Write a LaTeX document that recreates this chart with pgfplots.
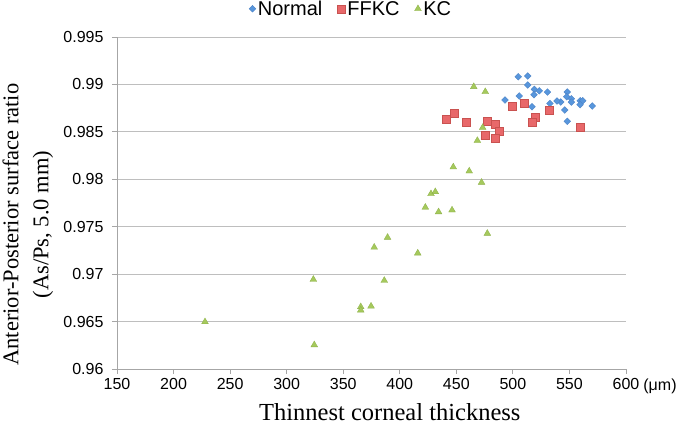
\documentclass[border=0pt]{standalone}
\usepackage{fontspec}
\setmainfont{Liberation Serif}
\newfontfamily\arial{Liberation Sans}
\usepackage{pgfplots}
\pgfplotsset{compat=1.18}
\definecolor{nblue}{HTML}{5896DC}
\definecolor{nbluedk}{HTML}{4A80C4}
\definecolor{fred}{HTML}{E8686A}
\definecolor{freddk}{HTML}{C95250}
\definecolor{kgreen}{HTML}{A5C95C}
\definecolor{kgreendk}{HTML}{8DB048}
\definecolor{gridgray}{HTML}{BEBEBE}
\definecolor{axisgray}{HTML}{A6A6A6}

\pgfplotstableread{
x y
504.8 0.99081
513.1 0.99089
513.1 0.98994
519.0 0.98948
523.4 0.98933
530.5 0.98920
518.7 0.98891
505.7 0.98878
493.0 0.98835
548.1 0.98920
547.6 0.98870
551.7 0.98849
542.3 0.98814
532.8 0.98800
551.7 0.98814
559.6 0.98828
561.8 0.98828
559.4 0.98786
570.2 0.98772
516.9 0.98765
545.8 0.98730
531.6 0.98719
548.1 0.98611
539.0 0.98825
}\normaltab

\pgfplotstableread{
x y
440.6 0.98635
448.5 0.98695
458.3 0.98606
477.4 0.98617
484.4 0.98582
487.5 0.98508
475.4 0.98469
484.8 0.98435
499.2 0.98772
510.4 0.98807
519.3 0.98653
517.5 0.98603
532.5 0.98733
559.1 0.98551
}\ffkctab

\pgfplotstableread{
x y
465.4 0.98976
475.6 0.98923
473.3 0.98545
468.6 0.98408
447.3 0.98129
461.4 0.98086
472.3 0.97967
427.6 0.97847
431.4 0.97868
422.6 0.97704
434.3 0.97656
446.2 0.97675
477.4 0.97429
389.2 0.97387
377.4 0.97283
415.9 0.97221
323.6 0.96944
386.3 0.96933
365.5 0.96655
365.5 0.96620
374.6 0.96662
227.8 0.96497
324.4 0.96254
}\kctab

\begin{document}
\begin{tikzpicture}
\useasboundingbox (0,0) rectangle (685pt,438pt);
\begin{axis}[
  at={(117pt,69pt)}, anchor=south west,
  scale only axis, width=509pt, height=332pt,
  xmin=150, xmax=600, ymin=0.96, ymax=0.995,
  xtick={150,200,250,300,350,400,450,500,550,600},
  ytick={0.96,0.965,0.97,0.975,0.98,0.985,0.99,0.995},
  yticklabels={0.96,0.965,0.97,0.975,0.98,0.985,0.99,0.995},
  scaled ticks=false,
  axis x line*=bottom, axis y line*=left,
  tick align=outside, tick pos=left,
  major tick length=5pt,
  tick style={color=axisgray, line width=0.8pt},
  axis line style={color=axisgray, line width=0.8pt},
  ymajorgrids, grid style={color=gridgray, line width=0.8pt},
  /pgf/number format/assume math mode=true,
  ticklabel style={font=\arial\fontsize{16}{16}\selectfont, text=black},
  yticklabel style={xshift=-5pt},
  xticklabel style={yshift=-1pt},
  xlabel={Thinnest corneal thickness},
  xlabel style={font=\fontsize{24.5}{28}\selectfont, at={(axis description cs:0.536,-0.13)}, anchor=center},
  ylabel={Anterior-Posterior surface ratio\\(As/Ps, 5.0 mm)},
  ylabel style={font=\fontsize{22.5}{30}\selectfont, align=center, at={(axis description cs:-0.175,0.435)}, anchor=center},
  legend columns=3,
  legend style={draw=none, fill=none, font=\arial\fontsize{20}{20}\selectfont,
    at={(axis description cs:0.46,1.085)}, anchor=center,
    /tikz/every even column/.append style={column sep=13pt}},
  legend image code/.code={\draw[#1] plot coordinates {(0pt,0pt)};},
  clip=false,
]
\addplot[only marks, mark=square*, mark size=2.4pt, mark options={rotate=45, fill=nblue, draw=nbluedk, line width=0.3pt}] table {\normaltab};
\addlegendentry{Normal}
\addplot[only marks, mark=square*, mark size=4pt, mark options={fill=fred, draw=freddk, line width=0.4pt}] table {\ffkctab};
\addlegendentry{FFKC}
\addplot[only marks, mark=triangle*, mark size=3.9pt, mark options={fill=kgreen, draw=kgreendk, line width=0.3pt}] table {\kctab};
\addlegendentry{KC}
\node[font=\arial\fontsize{16}{16}\selectfont, anchor=center] at ([xshift=34pt, yshift=-17pt]rel axis cs:1,0) {(μm)};
\end{axis}
\end{tikzpicture}
\end{document}
